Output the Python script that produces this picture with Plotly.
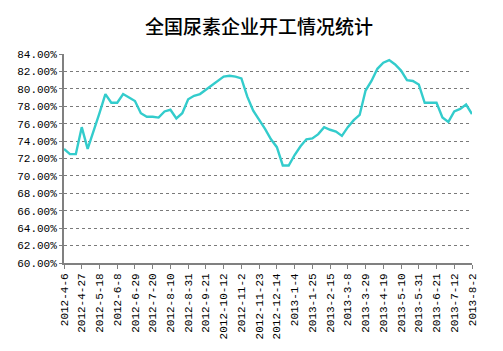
import plotly.graph_objects as go

dates = [
    "2012-4-6", "2012-4-13", "2012-4-20", "2012-4-27", "2012-5-4", "2012-5-11", "2012-5-18",
    "2012-5-25", "2012-6-1", "2012-6-8", "2012-6-15", "2012-6-22", "2012-6-29", "2012-7-6",
    "2012-7-13", "2012-7-20", "2012-7-27", "2012-8-3", "2012-8-10", "2012-8-17", "2012-8-24",
    "2012-8-31", "2012-9-7", "2012-9-14", "2012-9-21", "2012-9-28", "2012-10-5", "2012-10-12",
    "2012-10-19", "2012-10-26", "2012-11-2", "2012-11-9", "2012-11-16", "2012-11-23",
    "2012-11-30", "2012-12-7", "2012-12-14", "2012-12-21", "2012-12-28",
    "2013-1-4", "2013-1-11", "2013-1-18", "2013-1-25", "2013-2-1", "2013-2-8", "2013-2-15",
    "2013-2-22", "2013-3-1", "2013-3-8", "2013-3-15", "2013-3-22", "2013-3-29", "2013-4-5",
    "2013-4-12", "2013-4-19", "2013-4-26", "2013-5-3", "2013-5-10", "2013-5-17", "2013-5-24",
    "2013-5-31", "2013-6-7", "2013-6-14", "2013-6-21", "2013-6-28", "2013-7-5", "2013-7-12",
    "2013-7-19", "2013-7-26", "2013-8-2",
]

rates = [
    73.1, 72.5, 72.5, 75.6, 73.1, 75.1, 77.2, 79.4, 78.4, 78.4,
    79.4, 79.0, 78.6, 77.2, 76.8, 76.8, 76.7, 77.4, 77.6, 76.6,
    77.2, 78.8, 79.2, 79.4, 79.9, 80.5, 81.0, 81.4, 81.5, 81.4,
    81.2, 79.1, 77.5, 76.5, 75.4, 74.2, 73.3, 71.2, 71.2, 72.4,
    73.4, 74.2, 74.3, 74.8, 75.6, 75.3, 75.1, 74.6, 75.6, 76.4,
    77.0, 79.8, 80.9, 82.3, 83.0, 83.3, 82.8, 82.1, 81.0, 80.9,
    80.5, 78.4, 78.4, 78.4, 76.7, 76.2, 77.4, 77.7, 78.2, 77.1,
]

tick_labels = dates[::3]
title_text = "全国尿素企业开工情况统计"

fig = go.Figure()
fig.add_trace(go.Scatter(
    x=dates, y=rates, mode="lines",
    line=dict(color="#33CCCC", width=2.4),
    hoverinfo="skip",
))

fig.update_layout(
    width=503, height=351,
    margin=dict(l=64, r=31, t=54, b=88),
    paper_bgcolor="white", plot_bgcolor="white",
    showlegend=False,
    title=dict(
        text=title_text, x=259 / 503, xanchor="center", y=1 - 27 / 351, yanchor="middle",
        font=dict(family="Noto Sans CJK SC", size=19, color="black", weight=500),
    ),
    font=dict(family="Liberation Mono", size=11, color="black"),
)

fig.update_xaxes(
    type="category",
    categoryorder="array", categoryarray=dates,
    range=[0, len(dates) - 1],
    tickmode="array", tickvals=tick_labels, ticktext=tick_labels,
    tickangle=-90,
    ticks="outside", ticklen=4, tickcolor="#808080", tickwidth=1,
    showline=True, linecolor="#808080", linewidth=2,
    showgrid=False, zeroline=False,
    tickfont=dict(family="Liberation Mono", size=11, color="black"),
)

fig.update_yaxes(
    range=[60, 84], dtick=2, tick0=60,
    tickformat=".2f", ticksuffix="%",
    ticks="outside", ticklen=3, tickcolor="#808080",
    showline=True, linecolor="#808080", linewidth=2,
    showgrid=True, gridcolor="#7a7a7a", gridwidth=1, griddash="3px,3px",
    zeroline=False,
    tickfont=dict(family="Liberation Mono", size=11, color="black"),
)

fig.write_html("out.html")
